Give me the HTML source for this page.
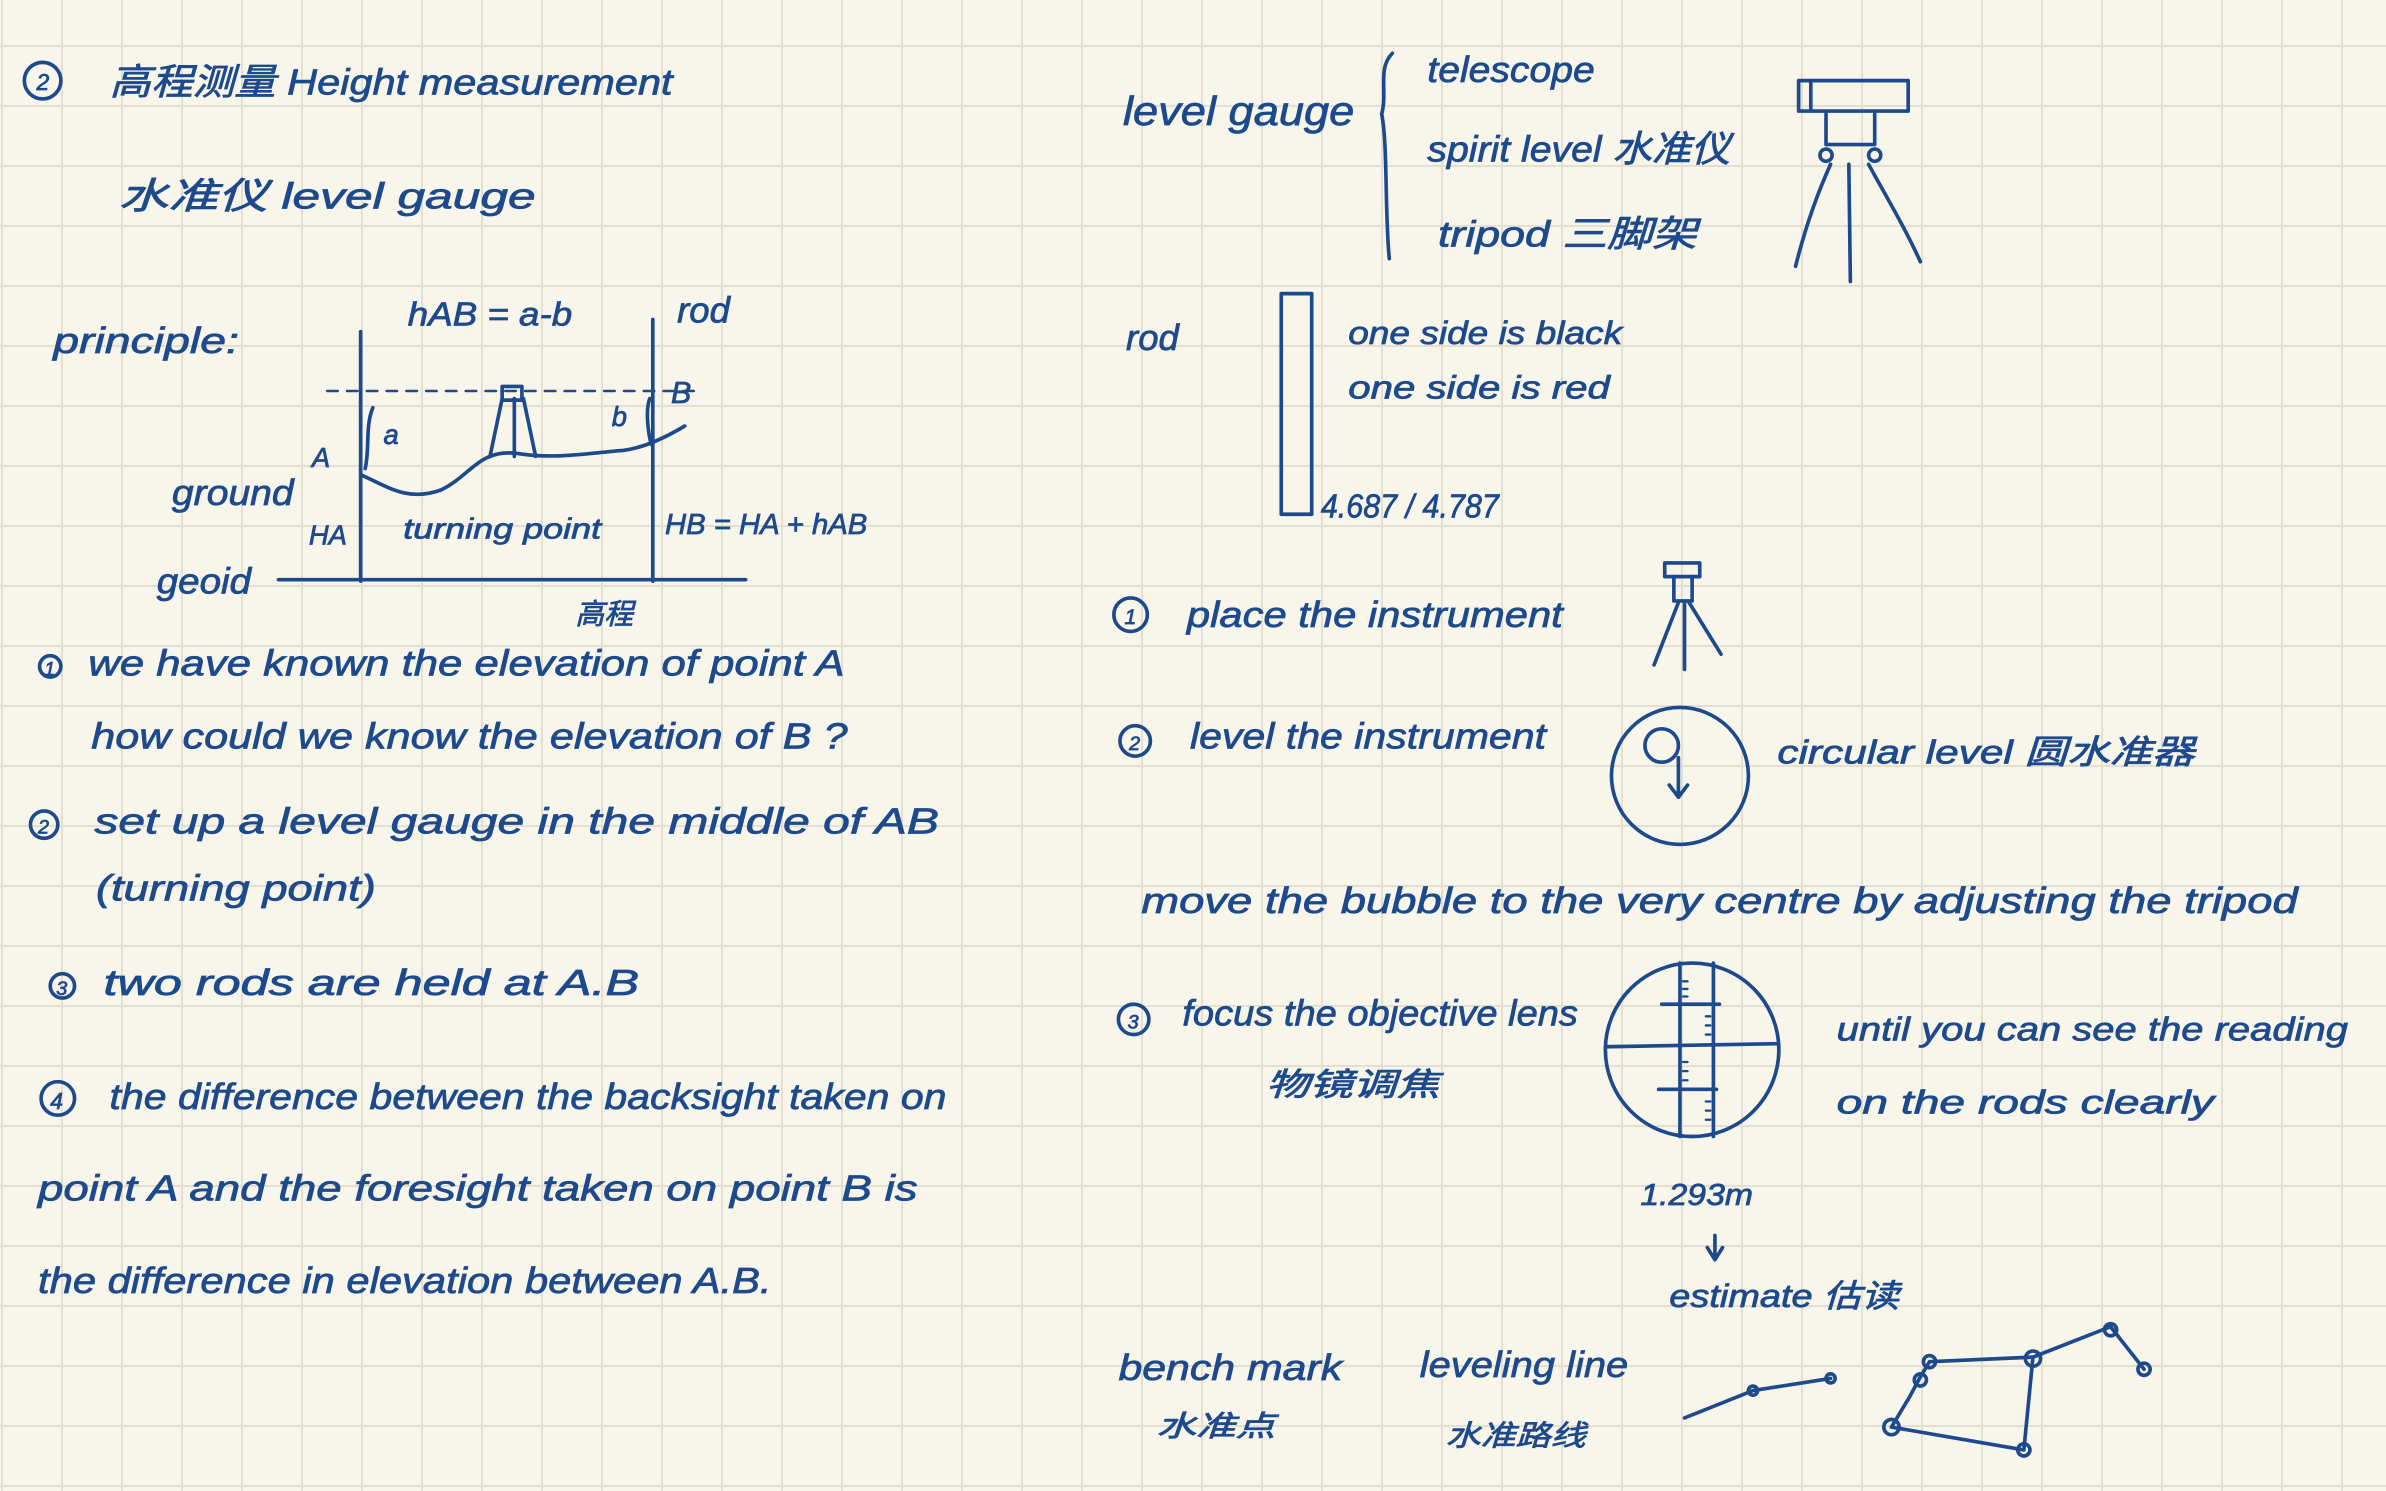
<!DOCTYPE html>
<html><head><meta charset="utf-8"><style>
html,body{margin:0;padding:0;background:#f8f5ea;}
#wrap{position:relative;width:2386px;height:1491px;overflow:hidden;
background-color:#f8f5ea;
background-image:linear-gradient(to right,#e4dfd1 2px,transparent 2px),linear-gradient(to bottom,#e4dfd1 2px,transparent 2px);
background-size:60px 60px;background-position:1px 45px;}
svg{position:absolute;left:0;top:0;}
text{font-family:"Liberation Sans","Noto Sans CJK SC",sans-serif;font-style:italic;fill:#1d4a8c;stroke:#1d4a8c;stroke-width:0.5;}
</style></head><body><div id="wrap">
<svg width="2386" height="1491" viewBox="0 0 1568 980" preserveAspectRatio="none">
<g fill="none" stroke="#1d4a8c" stroke-width="2.4" stroke-linecap="round" stroke-linejoin="round">
<circle cx="28" cy="53" r="12"/>
<line x1="237" y1="218" x2="237" y2="382"/>
<line x1="429" y1="210" x2="429" y2="382"/>
<line x1="183" y1="381" x2="490" y2="381"/>
<line x1="215" y1="257" x2="460" y2="257" stroke-dasharray="7,6" stroke-width="1.6"/>
<path d="M237 312 C255 320 268 330 290 322 C310 312 315 295 340 298 C365 302 385 298 410 296 C425 294 440 286 450 280"/>
<path d="M330 262 L322 300 M338 262 L338 300 M344 262 L352 300"/>
<rect x="330" y="254" width="13" height="9"/>
<path d="M245 268 C240 280 243 295 240 308"/>
<path d="M427 262 C424 270 426 285 428 292"/>
<circle cx="743" cy="404" r="11"/><circle cx="746" cy="487" r="10"/><circle cx="745" cy="670" r="10"/>
<circle cx="33" cy="438" r="7"/><circle cx="29" cy="542" r="9"/><circle cx="41" cy="648" r="8"/><circle cx="38" cy="722" r="11"/>
<path d="M915 35 C905 45 912 60 908 75 C912 95 910 140 913 170"/>
<rect x="1182" y="53" width="72" height="20"/>
<line x1="1190" y1="53" x2="1190" y2="73"/>
<path d="M1200 75 L1200 95 L1232 95 L1232 75"/><circle cx="1200" cy="102" r="4"/><circle cx="1232" cy="102" r="4"/>
<path d="M1203 108 C1193 130 1185 155 1180 175 M1215 108 L1216 185 M1228 108 C1240 130 1252 150 1262 172"/>
<rect x="842" y="193" width="20" height="145"/>
<rect x="1094" y="370" width="23" height="9"/><path d="M1100 379 L1100 395 L1112 395 L1112 379"/>
<path d="M1103 396 L1087 437 M1107 396 L1107 440 M1110 396 L1131 430"/>
<circle cx="1104" cy="510" r="45"/><circle cx="1092" cy="490" r="11"/>
<path d="M1103 498 L1103 523 M1097 516 L1103 524 L1109 516"/>
<ellipse cx="1112" cy="690" rx="57" ry="57"/>
<line x1="1055" y1="688" x2="1168" y2="686"/>
<line x1="1104" y1="633" x2="1104" y2="747"/><line x1="1126" y1="633" x2="1126" y2="747"/>
<line x1="1092" y1="660" x2="1130" y2="660"/><line x1="1090" y1="716" x2="1128" y2="716"/>
<path stroke-width="1.5" d="M1106 645h3M1106 650h3M1106 655h3M1121 668h3M1121 674h3M1121 680h3M1106 698h3M1106 704h3M1106 710h3M1121 724h3M1121 730h3M1121 736h3"/>
<path d="M1127 812 L1127 826 M1122 820 L1127 828 L1132 820"/>
<path d="M1107 932 L1152 914 L1203 906"/><circle cx="1152" cy="914" r="3"/><circle cx="1203" cy="906" r="3"/>
<path d="M1268 895 L1336 892 L1330 953 L1243 938 L1255 918 L1262 905 L1268 895 M1336 892 L1387 872 L1409 900"/>
<circle cx="1268" cy="895" r="4"/><circle cx="1336" cy="893" r="5"/><circle cx="1387" cy="874" r="4"/><circle cx="1409" cy="900" r="4"/><circle cx="1243" cy="938" r="5"/><circle cx="1330" cy="953" r="4"/><circle cx="1262" cy="907" r="4"/>
</g>
<g font-size="24" lengthAdjust="spacingAndGlyphs">
<text x="24" y="59" font-size="15">2</text>
<text x="72" y="62" textLength="370" lengthAdjust="spacingAndGlyphs">高程测量  Height measurement</text>
<text x="78" y="137" textLength="274" lengthAdjust="spacingAndGlyphs">水准仪  level gauge</text>
<text x="35" y="232" textLength="122" lengthAdjust="spacingAndGlyphs">principle:</text>
<text x="268" y="214" font-size="22" textLength="108" lengthAdjust="spacingAndGlyphs">hAB = a-b</text>
<text x="445" y="212">rod</text>
<text x="252" y="292" font-size="18">a</text><text x="402" y="280" font-size="18">b</text>
<text x="441" y="265" font-size="20">B</text><text x="205" y="307" font-size="18">A</text>
<text x="113" y="332" textLength="80" lengthAdjust="spacingAndGlyphs">ground</text>
<text x="203" y="358" font-size="18">HA</text>
<text x="265" y="354" font-size="19" textLength="130" lengthAdjust="spacingAndGlyphs">turning point</text>
<text x="437" y="351" font-size="19" textLength="133" lengthAdjust="spacingAndGlyphs">HB = HA + hAB</text>
<text x="103" y="390" textLength="62" lengthAdjust="spacingAndGlyphs">geoid</text>
<text x="378" y="410" font-size="19">高程</text>
<text x="29" y="444" font-size="13">1</text>
<text x="58" y="444" textLength="497" lengthAdjust="spacingAndGlyphs">we have known the elevation of point A</text>
<text x="60" y="492" textLength="497" lengthAdjust="spacingAndGlyphs">how could we know the elevation of B ?</text>
<text x="25" y="548" font-size="13">2</text>
<text x="62" y="548" textLength="555" lengthAdjust="spacingAndGlyphs">set up a level gauge in the middle of AB</text>
<text x="63" y="592" textLength="184" lengthAdjust="spacingAndGlyphs">(turning point)</text>
<text x="37" y="654" font-size="13">3</text>
<text x="68" y="654" textLength="352" lengthAdjust="spacingAndGlyphs">two rods are held at  A.B</text>
<text x="33" y="729" font-size="15">4</text>
<text x="72" y="729" textLength="550" lengthAdjust="spacingAndGlyphs">the difference between the backsight taken on</text>
<text x="25" y="789" textLength="578" lengthAdjust="spacingAndGlyphs">point A and the foresight taken on point B is</text>
<text x="25" y="850" textLength="482" lengthAdjust="spacingAndGlyphs">the difference in elevation between A.B.</text>
<text x="738" y="82" font-size="27" textLength="152" lengthAdjust="spacingAndGlyphs">level gauge</text>
<text x="938" y="54" textLength="110" lengthAdjust="spacingAndGlyphs">telescope</text>
<text x="938" y="106" textLength="199" lengthAdjust="spacingAndGlyphs">spirit level  水准仪</text>
<text x="945" y="162" textLength="170" lengthAdjust="spacingAndGlyphs">tripod  三脚架</text>
<text x="740" y="230">rod</text>
<text x="886" y="226" font-size="21" textLength="180" lengthAdjust="spacingAndGlyphs">one side is black</text>
<text x="886" y="262" font-size="21" textLength="172" lengthAdjust="spacingAndGlyphs">one side is red</text>
<text x="868" y="340" font-size="22" textLength="117" lengthAdjust="spacingAndGlyphs">4.687 / 4.787</text>
<text x="739" y="410" font-size="14">1</text>
<text x="780" y="412" textLength="247" lengthAdjust="spacingAndGlyphs">place the instrument</text>
<text x="742" y="493" font-size="13">2</text>
<text x="782" y="492" textLength="234" lengthAdjust="spacingAndGlyphs">level the instrument</text>
<text x="1168" y="502" font-size="22" textLength="274" lengthAdjust="spacingAndGlyphs">circular level  圆水准器</text>
<text x="750" y="600" textLength="760" lengthAdjust="spacingAndGlyphs">move the bubble to the very centre by adjusting the tripod</text>
<text x="741" y="676" font-size="13">3</text>
<text x="777" y="674" textLength="260" lengthAdjust="spacingAndGlyphs">focus the objective lens</text>
<text x="832" y="720" font-size="21" textLength="114" lengthAdjust="spacingAndGlyphs">物镜调焦</text>
<text x="1207" y="684" font-size="22" textLength="336" lengthAdjust="spacingAndGlyphs">until you can see the reading</text>
<text x="1207" y="732" font-size="22" textLength="248" lengthAdjust="spacingAndGlyphs">on the rods clearly</text>
<text x="1078" y="792" font-size="20" textLength="74" lengthAdjust="spacingAndGlyphs">1.293m</text>
<text x="1097" y="859" font-size="21" textLength="151" lengthAdjust="spacingAndGlyphs">estimate 估读</text>
<text x="735" y="907" textLength="147" lengthAdjust="spacingAndGlyphs">bench mark</text>
<text x="760" y="944" font-size="19" textLength="78" lengthAdjust="spacingAndGlyphs">水准点</text>
<text x="933" y="905" textLength="137" lengthAdjust="spacingAndGlyphs">leveling line</text>
<text x="950" y="950" font-size="19" textLength="92" lengthAdjust="spacingAndGlyphs">水准路线</text>
</g>
</svg></div></body></html>
